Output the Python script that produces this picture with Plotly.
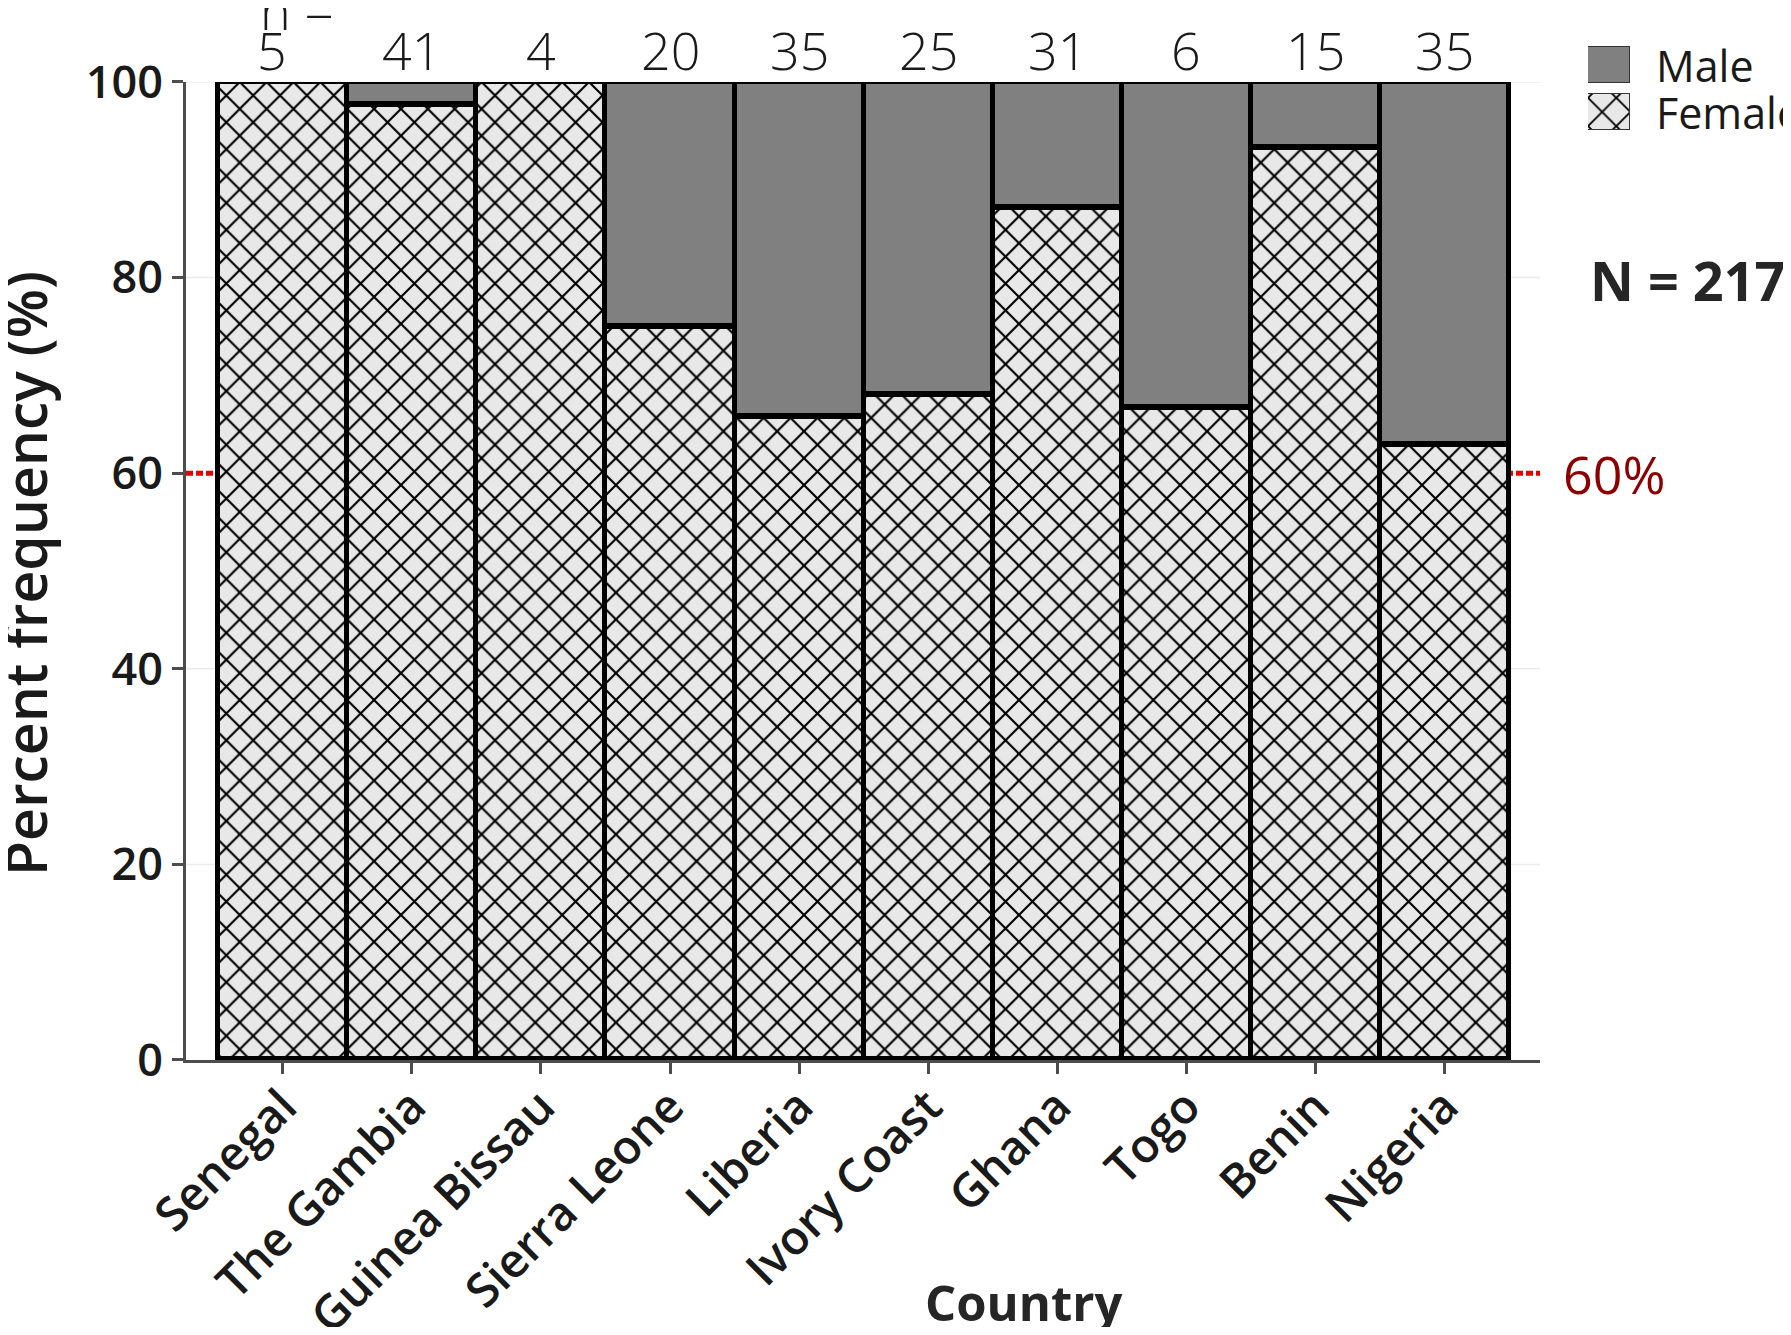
import plotly.graph_objects as go

# ---- data ----
countries = ["Senegal", "The Gambia", "Guinea Bissau", "Sierra Leone", "Liberia",
             "Ivory Coast", "Ghana", "Togo", "Benin", "Nigeria"]
n_counts = [5, 41, 4, 20, 35, 25, 31, 6, 15, 35]
female_pct = [100.0, 97.6, 100.0, 75.0, 65.7, 68.0, 87.1, 66.7, 93.3, 62.9]
male_pct = [0.0, 2.4, 0.0, 25.0, 34.3, 32.0, 12.9, 33.3, 6.7, 37.1]
total_n = 217
ref_line = 60
y_ticks = [0, 20, 40, 60, 80, 100]
legend_labels = ["Female", "Male"]

FONT = "Open Sans"
TXT = "#1a1a1a"
AX = "#4d4d4d"
MALE_C = "#808080"
FEM_BG = "#e8e8e8"
GRID = "#ebebeb"

female_pattern = dict(shape="x", fgcolor="#000000", bgcolor=FEM_BG, size=19, solidity=0.21, fgopacity=1)

fig = go.Figure()

fig.add_trace(go.Bar(
    x=countries, y=female_pct, name="Female",
    marker=dict(color=FEM_BG, pattern=female_pattern, line=dict(color="black", width=5.5)),
    showlegend=False, hoverinfo="x+y",
))
fig.add_trace(go.Bar(
    x=countries, y=male_pct, name="Male",
    marker=dict(color=MALE_C, line=dict(color="black", width=5.5)),
    showlegend=False, hoverinfo="x+y",
))

# custom legend swatches drawn on their own small axes
fig.add_trace(go.Bar(
    y=[0.5], x=[1], base=0, orientation="h", width=0.76, xaxis="x2", yaxis="y2",
    marker=dict(color=FEM_BG, pattern=dict(shape="x", fgcolor="#000000", bgcolor=FEM_BG, size=20,
                                           solidity=0.18, fgopacity=1),
                line=dict(color="#333333", width=1.5)),
    showlegend=False, hoverinfo="skip",
))
fig.add_trace(go.Bar(
    y=[1.5], x=[1], base=0, orientation="h", width=0.76, xaxis="x2", yaxis="y2",
    marker=dict(color=MALE_C, line=dict(color="#333333", width=1.5)),
    showlegend=False, hoverinfo="skip",
))

annotations = []
# n labels above bars
for i, (c, n) in enumerate(zip(countries, n_counts)):
    annotations.append(dict(
        x=c, y=100, xref="x", yref="y", text=str(n), showarrow=False,
        yanchor="bottom", yshift=-5, xshift=-11 if i == 0 else 0,
        font=dict(family=FONT, size=52, color=TXT, weight=300),
    ))
annotations.append(dict(
    x=countries[0], y=100, xref="x", yref="y", text="n =", showarrow=False,
    xanchor="left", yanchor="bottom", yshift=35, xshift=-25,
    font=dict(family=FONT, size=52, color=TXT, weight=300),
))
# legend text
for yy, lab in zip([0.5, 1.5], legend_labels):
    annotations.append(dict(
        x=1, y=yy, xref="x2", yref="y2", text=lab, showarrow=False,
        xanchor="left", yanchor="middle", xshift=24,
        font=dict(family=FONT, size=43, color=TXT),
    ))
# N total
annotations.append(dict(
    x=0.94051, y=0.74144, xref="paper", yref="paper", text=f"<b>N = {total_n}</b>",
    showarrow=False, xanchor="center", yanchor="middle",
    font=dict(family=FONT, size=54, color="#262626"),
))
# 60% label
annotations.append(dict(
    x=0.86099, y=ref_line, xref="paper", yref="y", text=f"{ref_line}%",
    showarrow=False, xanchor="left", yanchor="middle",
    font=dict(family=FONT, size=52, color="#8b0000"),
))
# axis titles
annotations.append(dict(
    x=0.52473, y=-0.23004, xref="paper", yref="paper", text="<b>Country</b>",
    showarrow=False, xanchor="center", yanchor="middle",
    font=dict(family=FONT, size=49, color="#262626"),
))
annotations.append(dict(
    x=-0.10081, y=0.46198, xref="paper", yref="paper", text="Percent frequency (%)",
    showarrow=False, xanchor="center", yanchor="middle", textangle=-90,
    font=dict(family=FONT, size=57, color=TXT, weight=600),
))

# faint horizontal gridlines, then the dotted 60 % reference line (all under the bars)
shapes = []
for t in y_ticks[1:]:
    shapes.append(dict(
        type="line", xref="x domain", yref="y", x0=0, x1=1, y0=t, y1=t,
        line=dict(color=GRID, width=1.5), layer="below",
    ))
shapes.append(dict(
    type="line", xref="x domain", yref="y", x0=0, x1=1, y0=ref_line, y1=ref_line,
    line=dict(color="#e60000", width=5, dash="7px,3px"), layer="below",
))
# small left overhang of the x-axis baseline past the y axis
shapes.append(dict(
    type="line", xref="x domain", yref="y", x0=-0.0074, x1=0, y0=0, y1=0,
    line=dict(color=AX, width=3), layer="above",
))

fig.update_layout(
    width=1775, height=1319,
    margin=dict(l=178, r=0, t=0, b=267, pad=0),
    paper_bgcolor="white", plot_bgcolor="white",
    barmode="stack", bargap=0,
    showlegend=False,
    font=dict(family=FONT, color=TXT),
    annotations=annotations, shapes=shapes,
    xaxis=dict(
        domain=[0, 0.84784], type="category", range=[-0.75, 9.74],
        showline=True, linecolor=AX, linewidth=3,
        ticks="outside", ticklen=11, tickwidth=3, tickcolor=AX,
        tickangle=-45, tickfont=dict(family=FONT, size=47, color=TXT, weight=600),
        ticklabelstandoff=-14,
        showgrid=False, zeroline=False, automargin=False,
    ),
    yaxis=dict(
        domain=[0, 0.92966], range=[0, 100], tickvals=y_ticks,
        showline=True, linecolor=AX, linewidth=3,
        ticks="outside", ticklen=11, tickwidth=3, tickcolor=AX,
        tickfont=dict(family=FONT, size=45, color=TXT, weight=600),
        showgrid=False, zeroline=False, automargin=False,
    ),
    xaxis2=dict(domain=[0.87790, 0.90420], range=[0, 1], anchor="y2", visible=False, fixedrange=True),
    yaxis2=dict(domain=[0.87809, 0.96839], range=[0, 2], anchor="x2", visible=False, fixedrange=True),
)

fig.write_html("out.html")
